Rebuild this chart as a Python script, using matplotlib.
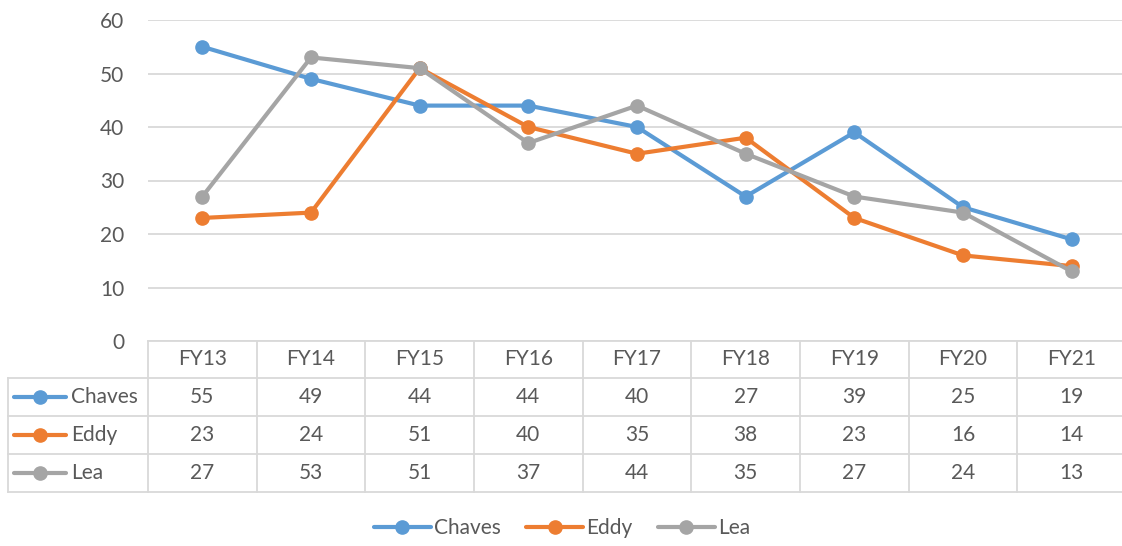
import matplotlib.pyplot as plt
from matplotlib.lines import Line2D
from matplotlib.transforms import blended_transform_factory

categories = ['FY13', 'FY14', 'FY15', 'FY16', 'FY17', 'FY18', 'FY19', 'FY20', 'FY21']
chaves = [55, 49, 44, 44, 40, 27, 39, 25, 19]
eddy = [23, 24, 51, 40, 35, 38, 23, 16, 14]
lea = [27, 53, 51, 37, 44, 35, 27, 24, 13]
series_names = ['Chaves', 'Eddy', 'Lea']
colors = ['#5B9BD5', '#ED7D31', '#A5A5A5']

plt.rcParams['font.family'] = ['Lato', 'DejaVu Sans']
txt = '#595959'
grid = '#D9D9D9'
fs = 15

W, H = 1122, 546
fig = plt.figure(figsize=(W / 100, H / 100), dpi=100)

def fx(px):
    return px / W

def fy(py):
    return 1 - py / H

ax = fig.add_axes([fx(148), fy(341), fx(1126) - fx(148), fy(20) - fy(341)])

x = list(range(len(categories)))
for vals, c in zip([chaves, eddy, lea], colors):
    ax.plot(x, vals, color=c, lw=3, marker='o', ms=9.5, solid_capstyle='round')

ax.set_xlim(-0.5, len(categories) - 0.5)
ax.set_ylim(0, 60)
ax.set_yticks(range(0, 61, 10))
ax.set_xticks([])
ax.tick_params(axis='y', length=0, labelsize=fs, labelcolor=txt, pad=17)
ax.grid(axis='y', color=grid, lw=1.3)
ax.set_axisbelow(True)
for s in ['top', 'right', 'left']:
    ax.spines[s].set_visible(False)
ax.spines['bottom'].set_color(grid)
ax.spines['bottom'].set_linewidth(1.3)

# data table below the axes
tr = blended_transform_factory(ax.transData, fig.transFigure)
row_lines = [378, 416, 454, 492]
for yl in row_lines:
    fig.add_artist(Line2D([fx(8), fx(1126)], [fy(yl), fy(yl)], color=grid, lw=1.3))
fig.add_artist(Line2D([fx(8), fx(8)], [fy(378), fy(492)], color=grid, lw=1.3))
for i in range(len(categories) + 1):
    ax.add_artist(Line2D([i - 0.5, i - 0.5], [fy(341), fy(492)], color=grid, lw=1.3,
                         transform=tr, clip_on=False))
fig.add_artist(Line2D([fx(1126), fx(1126)], [fy(341), fy(492)], color=grid, lw=1.3))

for i, cat in enumerate(categories):
    ax.text(i, fy(359), cat, transform=tr, ha='center', va='center', fontsize=fs, color=txt)

row_centers = [397, 435, 473]
for vals, name, c, yc in zip([chaves, eddy, lea], series_names, colors, row_centers):
    for i, v in enumerate(vals):
        ax.text(i, fy(yc), str(v), transform=tr, ha='center', va='center', fontsize=fs, color=txt)
    fig.add_artist(Line2D([fx(14), fx(66)], [fy(yc), fy(yc)], color=c, lw=3, solid_capstyle='round'))
    fig.add_artist(Line2D([fx(40)], [fy(yc)], color=c, marker='o', ms=9.5, lw=0))
    fig.text(fx(71), fy(yc), name, ha='left', va='center', fontsize=fs, color=txt)

handles = [Line2D([0], [0], color=c, lw=3, marker='o', ms=9.5, solid_capstyle='round') for c in colors]
leg = fig.legend(handles, series_names, loc='center', bbox_to_anchor=(fx(562), fy(528)), ncol=3,
                 frameon=False, fontsize=fs, handlelength=2.75, handletextpad=0.15, columnspacing=1.2)
for t in leg.get_texts():
    t.set_color(txt)

fig.savefig('out.png', dpi=100)
